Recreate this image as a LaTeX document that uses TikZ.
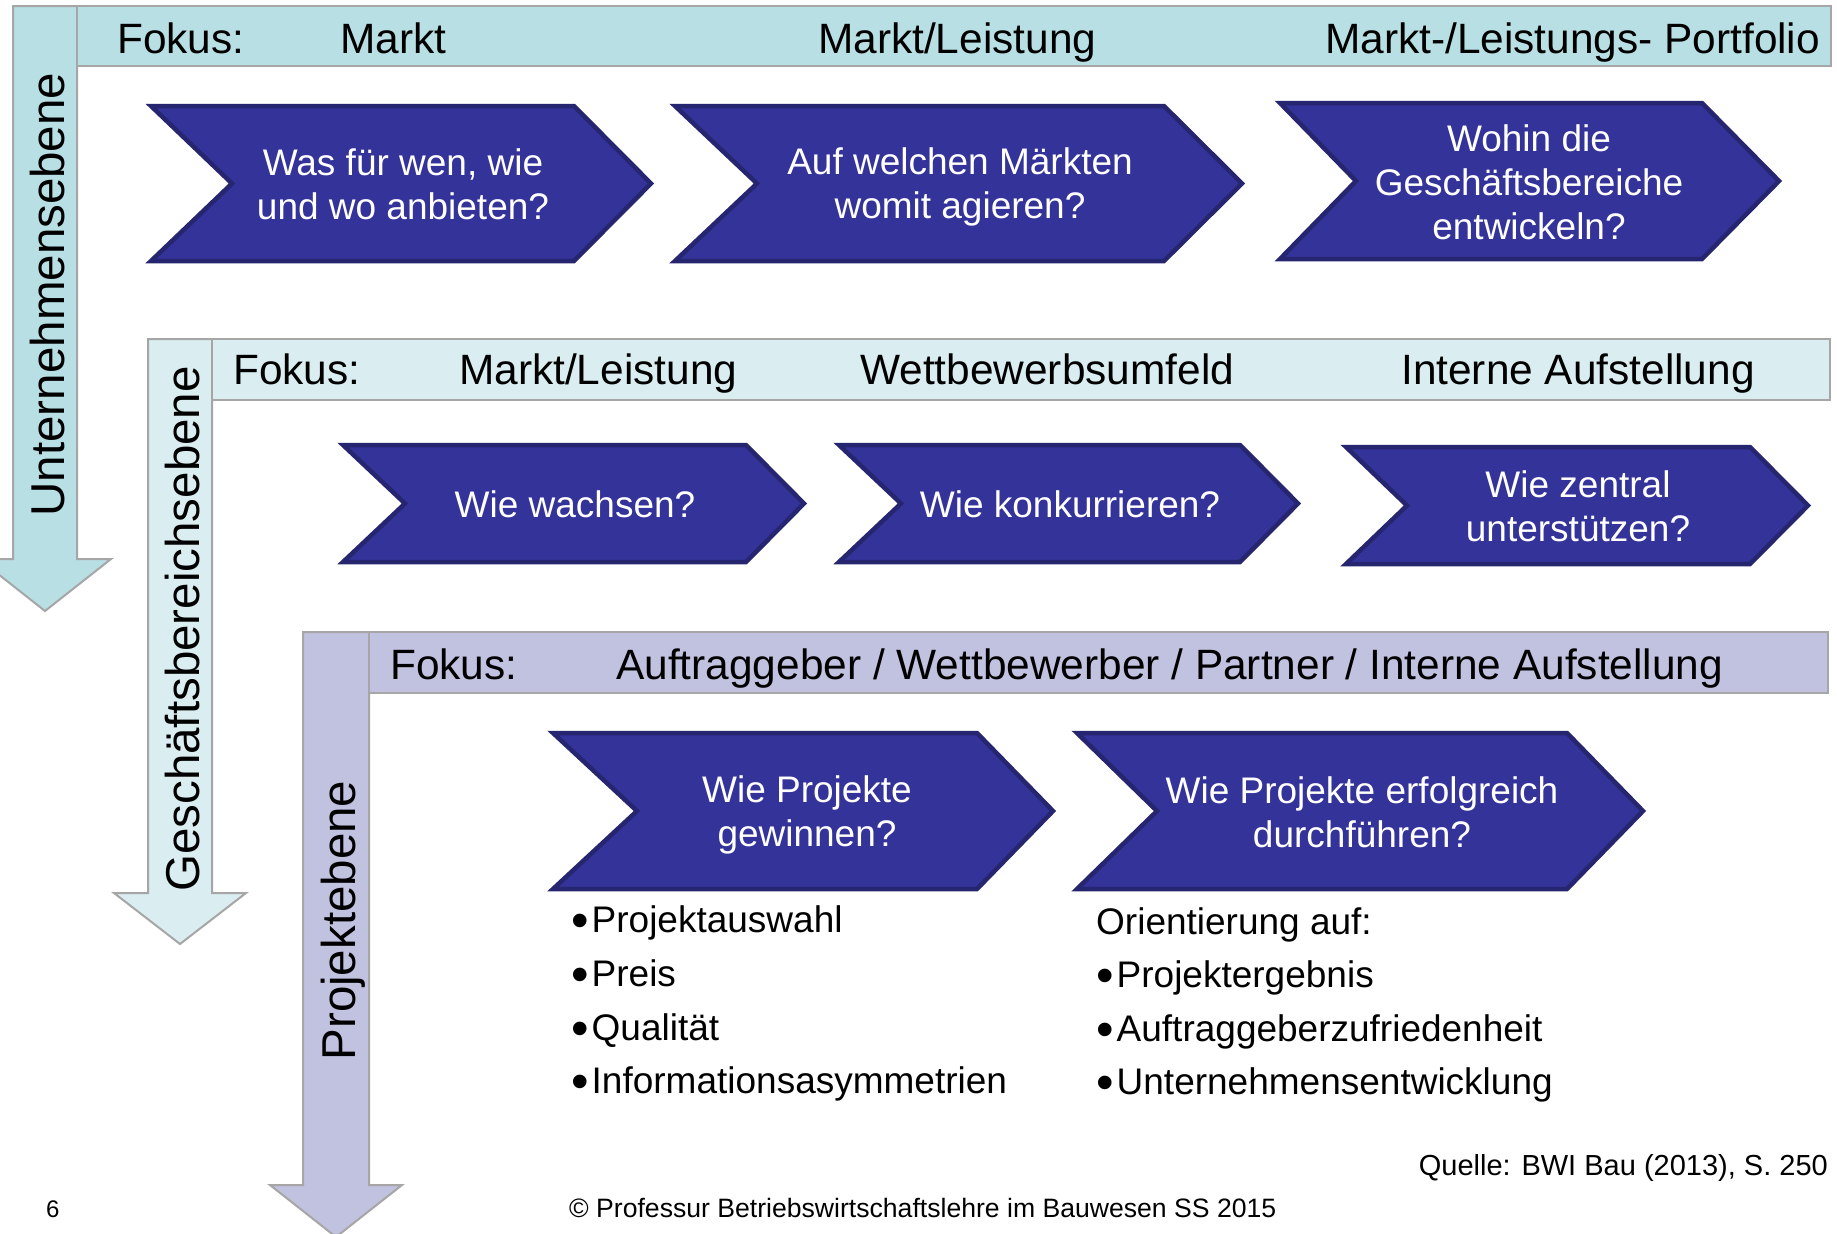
\documentclass[tikz,border=0pt]{standalone}
\usepackage{fontspec}
\setmainfont{Liberation Sans}
\definecolor{lvlA}{RGB}{184,223,227}
\definecolor{lvlB}{RGB}{218,238,241}
\definecolor{lvlC}{RGB}{193,193,224}
\definecolor{edgegray}{RGB}{166,166,166}
\definecolor{chevblue}{RGB}{51,51,153}
\definecolor{chevedge}{RGB}{38,38,112}
\tikzset{
  levshape/.style={draw=edgegray, line width=2},
  chevshape/.style={fill=chevblue, draw=chevedge, line width=4.5, line join=miter},
  bannertext/.style={anchor=base west, inner sep=0, font=\fontsize{42.4}{50}\selectfont},
  levtext/.style={rotate=90, anchor=base, inner sep=0, font=\fontsize{47.5}{56}\selectfont},
  chevtext/.style={text=white, align=center, inner sep=0, font=\fontsize{37}{44}\selectfont},
  listtext/.style={anchor=base west, inner sep=0, font=\fontsize{37}{44}\selectfont},
}
\newcommand\mybul{\makebox[20.5pt][l]{\raisebox{-5pt}{\fontsize{50}{50}\selectfont •}}}
% chevron (left, notch depth, corner, tip, top, bottom)
\newcommand\mychev[6]{%
  \path[chevshape] (#1,#5) -- (#3,#5) -- (#4,{(#5+#6)/2}) -- (#3,#6) -- (#1,#6) -- ({#1+#2},{(#5+#6)/2}) -- cycle;}
% level arrow (fill, shaft left, shaft right, top, shaft end, tip)
\newcommand\levarrow[6]{%
  \path[levshape,fill=#1] (#2,#4) -- (#3,#4) -- (#3,#5) -- ({(#2+#3)/2+66},#5) -- ({(#2+#3)/2},#6) -- ({(#2+#3)/2-66},#5) -- (#2,#5) -- cycle;}
\begin{document}
\begin{tikzpicture}[x=1pt,y=-1pt]
\useasboundingbox (0,0) rectangle (1837,1234);
\clip (0,0) rectangle (1837,1234);
\fill[white] (0,0) rectangle (1837,1234);

% ---------- level 1 ----------
\levarrow{lvlA}{13}{77}{6}{559}{611}
\path[levshape,fill=lvlA] (77,6) rectangle (1831,66);
\node[levtext] (lev1) at (64,294.5) {Unternehmensebene};
\node[bannertext] (f1a) at (117,53) {Fokus:};
\node[bannertext] (f1b) at (340,53) {Markt};
\node[bannertext] (f1c) at (818,53) {Markt/Leistung};
\node[bannertext] (f1d) at (1325,53) {Markt-/Leistungs- Portfolio};

\mychev{151}{81}{574}{651}{106}{261}
\node[chevtext] (c1) at (403,184) {Was für wen, wie\\und wo anbieten?};
\mychev{675}{82}{1164}{1242}{106}{261}
\node[chevtext] (c2) at (960,186.5) {Auf welchen Märkten\\womit agieren?};
\mychev{1280}{76}{1702}{1779}{103}{259}
\node[chevtext] (c3) at (1529,182) {Wohin die\\Geschäftsbereiche\\entwickeln?};

% ---------- level 2 ----------
\levarrow{lvlB}{148}{212}{339}{893}{944}
\path[levshape,fill=lvlB] (212,339) rectangle (1830,400);
\node[levtext] (lev2) at (199.5,629) {Geschäftsbereichsebene};
\node[bannertext] (f2a) at (233,384) {Fokus:};
\node[bannertext] (f2b) at (459,384) {Markt/Leistung};
\node[bannertext] (f2c) at (860,384) {Wettbewerbsumfeld};
\node[bannertext] (f2d) at (1401,384) {Interne Aufstellung};

\mychev{343}{62}{746}{804}{445}{562}
\node[chevtext] (r1) at (575,504) {Wie wachsen?};
\mychev{839}{62}{1240}{1298}{445}{562}
\node[chevtext] (r2) at (1070,504) {Wie konkurrieren?};
\mychev{1346}{61}{1750}{1808}{447}{564}
\node[chevtext] (r3) at (1578,506) {Wie zentral\\unterstützen?};

% ---------- level 3 ----------
\levarrow{lvlC}{303}{369}{632}{1185}{1237}
\path[levshape,fill=lvlC] (369,632) rectangle (1828,693);
\node[levtext] (lev3) at (355,920.5) {Projektebene};
\node[bannertext] (f3a) at (390,679) {Fokus:};
\node[bannertext] (f3b) at (616,679) {Auftraggeber / Wettbewerber / Partner / Interne Aufstellung};

\mychev{553}{84}{977}{1053}{733}{889}
\node[chevtext] (p1) at (807,815) {Wie Projekte\\gewinnen?};
\mychev{1077}{80}{1567}{1643}{733}{889}
\node[chevtext] (p2) at (1362,812) {Wie Projekte erfolgreich\\durchführen?};

% ---------- lists ----------
\node[listtext] (l1) at (571,932) {\mybul Projektauswahl};
\node[listtext] (l2) at (571,986) {\mybul Preis};
\node[listtext] (l3) at (571,1040) {\mybul Qualität};
\node[listtext] (l4) at (571,1093) {\mybul Informationsasymmetrien};

\node[listtext] (o0) at (1096,934) {Orientierung auf:};
\node[listtext] (o1) at (1096,987) {\mybul Projektergebnis};
\node[listtext] (o2) at (1096,1041) {\mybul Auftraggeberzufriedenheit};
\node[listtext] (o3) at (1096,1094) {\mybul Unternehmensentwicklung};

% ---------- footer ----------
\node[anchor=base east, inner sep=0, font=\fontsize{29}{34}\selectfont] (src) at (1828,1175) {Quelle: BWI Bau (2013), S. 250};
\node[anchor=base west, inner sep=0, font=\fontsize{26.6}{32}\selectfont] (copy) at (569,1217) {© Professur Betriebswirtschaftslehre im Bauwesen SS 2015};
\node[anchor=base west, inner sep=0, font=\fontsize{24}{28}\selectfont] (pg) at (46,1217) {6};
\end{tikzpicture}
\end{document}
